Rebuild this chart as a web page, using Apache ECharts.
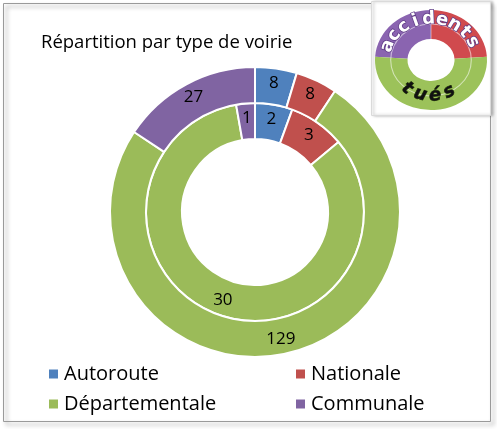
<!DOCTYPE html>
<html>
<head>
<meta charset="utf-8">
<script src="https://cdn.jsdelivr.net/npm/echarts@6/dist/echarts.min.js"></script>
<style>
  html, body { margin: 0; padding: 0; background: #fff; }
  #chart { width: 497px; height: 429px; }
</style>
</head>
<body>
<div id="chart"></div>
<script>
// données
const categories = ['Autoroute', 'Nationale', 'Départementale', 'Communale']
const accidents = [8, 8, 129, 27]
const tues = [2, 3, 30, 1]
const colors = ['#4f81bd', '#c0504d', '#9bbb59', '#8064a2']

const chart = echarts.init(document.getElementById('chart'))

// petit logo en haut a droite (decor)
function arcText(str, cx, cy, rx, ry, a0, a1, bottom, style) {
  const out = []
  const n = str.length
  for (let i = 0; i < n; i++) {
    const deg = a0 + (a1 - a0) * (i / (n - 1))
    const t = deg * Math.PI / 180
    const rot = bottom ? (90 - deg) : -(deg + 90)
    out.push({
      type: 'text',
      x: cx + rx * Math.cos(t),
      y: cy + ry * Math.sin(t),
      rotation: rot * Math.PI / 180,
      style: Object.assign({ text: str[i], align: 'center', verticalAlign: 'middle' }, style),
      z: 20
    })
  }
  return out
}

const lcx = 431
const lcy = 60
const logo = [
  {
    type: 'rect',
    shape: { x: 371.5, y: 1.5, width: 119, height: 114 },
    style: { fill: '#fff', stroke: '#dadada', lineWidth: 1, shadowColor: 'rgba(0,0,0,0.3)', shadowBlur: 3, shadowOffsetX: 2, shadowOffsetY: 0 },
    z: 10
  },
  {
    type: 'group',
    x: lcx,
    y: lcy,
    scaleX: 1.12,
    z: 11,
    children: [
      { type: 'sector', shape: { cx: 0, cy: 0, r0: 21, r: 50, startAngle: Math.PI * 1.02, endAngle: Math.PI * 1.5 }, style: { fill: '#8a64b0' }, z: 11 },
      { type: 'sector', shape: { cx: 0, cy: 0, r0: 21, r: 50, startAngle: Math.PI * 1.5, endAngle: Math.PI * 1.98 }, style: { fill: '#d04a4e' }, z: 11 },
      { type: 'sector', shape: { cx: 0, cy: 0, r0: 21, r: 50, startAngle: -Math.PI * 0.02, endAngle: Math.PI * 1.02 }, style: { fill: '#9cc25a' }, z: 11 },
      { type: 'circle', shape: { cx: 0, cy: 0, r: 36 }, style: { fill: 'none', stroke: 'rgba(255,255,255,0.55)', lineWidth: 1 }, z: 12 },
      { type: 'line', shape: { x1: 0, y1: -50, x2: 0, y2: -21 }, style: { stroke: 'rgba(255,255,255,0.45)', lineWidth: 1 }, z: 12 }
    ]
  }
].concat(
  arcText('accidents', lcx, lcy, 46, 41, -160, -26, false,
    { fill: '#fff', stroke: '#5e3a86', lineWidth: 1.5, font: 'bold 18px "DejaVu Sans"' }),
  arcText('tués', lcx, lcy, 39, 36, 128, 62, true,
    { fill: '#111', stroke: '#2f4a0c', lineWidth: 0.8, font: 'bold italic 18px "DejaVu Sans"' })
)

const labelStyle = {
  show: true,
  position: 'inside',
  color: '#000',
  fontSize: 17,
  fontFamily: 'Open Sans',
  formatter: '{c}'
}

chart.setOption({
  color: colors,
  animation: false,
  title: {
    text: 'Répartition par type de voirie',
    left: 36,
    top: 28,
    textStyle: {
      fontFamily: 'Open Sans',
      fontSize: 18.5,
      fontWeight: 'normal',
      color: '#000'
    }
  },
  legend: [
    {
      orient: 'vertical',
      left: 42,
      top: 359,
      itemGap: 10,
      itemWidth: 11,
      itemHeight: 11,
      icon: 'rect',
      selectedMode: false,
      textStyle: { fontFamily: 'Open Sans', fontSize: 20, color: '#000', padding: [0, 0, 0, 0] },
      data: ['Autoroute', 'Départementale']
    },
    {
      orient: 'vertical',
      left: 289,
      top: 359,
      itemGap: 10,
      itemWidth: 11,
      itemHeight: 11,
      icon: 'rect',
      selectedMode: false,
      textStyle: { fontFamily: 'Open Sans', fontSize: 20, color: '#000', padding: [0, 0, 0, 0] },
      data: ['Nationale', 'Communale']
    }
  ],
  graphic: [
    {
      type: 'rect',
      shape: { x: 3.5, y: 3.5, width: 487, height: 418 },
      style: { fill: 'none', stroke: '#9a9a9a', lineWidth: 1, shadowColor: 'rgba(0,0,0,0.45)', shadowBlur: 4, shadowOffsetX: 3, shadowOffsetY: 3 },
      z: -1
    }
  ].concat(logo),
  series: [
    {
      name: 'tués',
      type: 'pie',
      center: [255, 212],
      radius: [73, 109],
      startAngle: 90,
      clockwise: true,
      avoidLabelOverlap: false,
      itemStyle: { borderColor: '#fff', borderWidth: 2 },
      label: labelStyle,
      labelLine: { show: false },
      emphasis: { disabled: true },
      data: categories.map((c, i) => ({ name: c, value: tues[i] }))
    },
    {
      name: 'accidents',
      type: 'pie',
      center: [255, 212],
      radius: [109, 145],
      startAngle: 90,
      clockwise: true,
      avoidLabelOverlap: false,
      itemStyle: { borderColor: '#fff', borderWidth: 2 },
      label: labelStyle,
      labelLine: { show: false },
      emphasis: { disabled: true },
      data: categories.map((c, i) => ({ name: c, value: accidents[i] }))
    }
  ]
})
</script>
</body>
</html>
